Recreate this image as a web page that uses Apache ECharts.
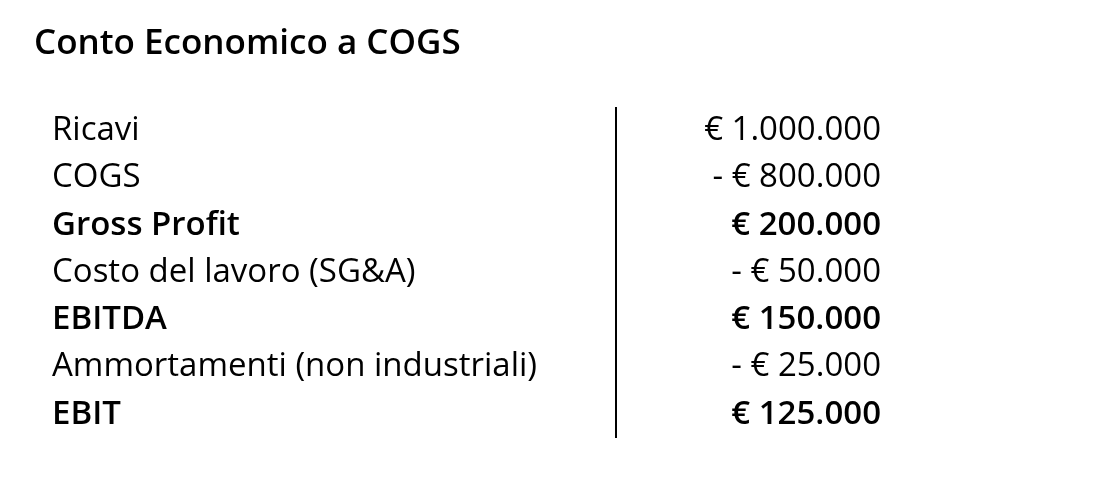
<!DOCTYPE html>
<html>
<head>
<meta charset="utf-8">
<script src="https://cdn.jsdelivr.net/npm/echarts@6/dist/echarts.min.js"></script>
<style>html,body{margin:0;padding:0;background:#fff;}#c{width:1106px;height:502px;}</style>
</head>
<body>
<div id="c"></div>
<script>
const title = 'Conto Economico a COGS';
const categories = ['Ricavi', 'COGS', 'Gross Profit', 'Costo del lavoro (SG&A)', 'EBITDA', 'Ammortamenti (non industriali)', 'EBIT'];
const values = ['€ 1.000.000', '- € 800.000', '€ 200.000', '- € 50.000', '€ 150.000', '- € 25.000', '€ 125.000'];
const boldRows = [false, false, true, false, true, false, true];
const dividerX = 0.6836;

const FONT = 'Open Sans';
const SIZE = 33;
const chart = echarts.init(document.getElementById('c'));
const leftData = categories.map((c, i) => ({
  value: [0, c],
  label: { formatter: c, fontWeight: boldRows[i] ? 600 : 'normal', color: '#000' }
}));
const rightData = categories.map((c, i) => ({
  value: [1, c],
  label: { formatter: values[i], fontWeight: boldRows[i] ? 600 : 'normal', color: '#000' }
}));
chart.setOption({
  animation: false,
  backgroundColor: '#fff',
  title: {
    text: title, left: 29, top: 22,
    textStyle: { fontFamily: FONT, fontSize: 35, fontWeight: 600, color: '#000' }
  },
  grid: { left: 52, right: 225, top: 107, bottom: 64 },
  xAxis: { type: 'value', min: 0, max: 1, show: false },
  yAxis: { type: 'category', data: categories, inverse: true, show: false },
  series: [
    {
      type: 'scatter', symbolSize: 0, data: leftData,
      itemStyle: { opacity: 1 },
      label: { show: true, opacity: 1, position: 'right', distance: 0, fontFamily: FONT, fontSize: SIZE, color: '#000' },
      markLine: {
        silent: true, symbol: 'none', label: { show: false },
        lineStyle: { color: '#000', width: 2, type: 'solid', opacity: 1 },
        data: [{ xAxis: dividerX }]
      }
    },
    {
      type: 'scatter', symbolSize: 0, data: rightData,
      itemStyle: { opacity: 1 },
      label: { show: true, opacity: 1, position: 'left', distance: 0, fontFamily: FONT, fontSize: SIZE, color: '#000' }
    }
  ]
});
</script>
</body>
</html>
